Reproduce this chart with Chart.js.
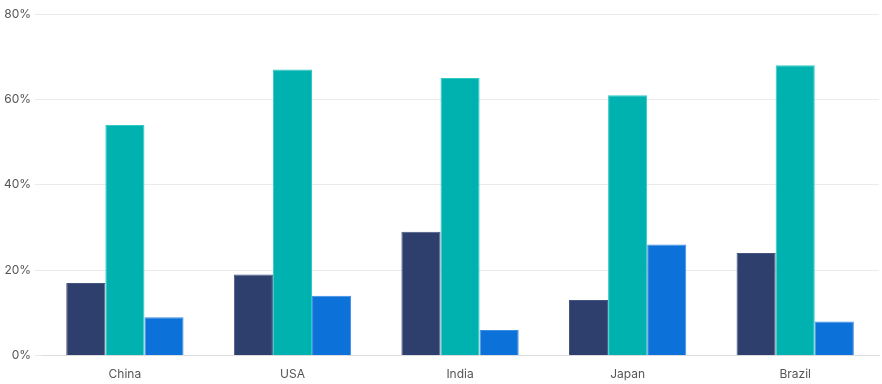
<!DOCTYPE html>
<html><head><meta charset="utf-8">
<script src="https://cdn.jsdelivr.net/npm/chart.js@4/dist/chart.umd.min.js"></script>
<style>html,body{margin:0;padding:0;background:#fff;overflow:hidden}#wrap{width:882px;height:384px;position:relative}</style>
</head><body><div id="wrap"><canvas id="c"></canvas></div>
<script>
const categories = ["China", "USA", "India", "Japan", "Brazil"];
const seriesA = [17, 19, 29, 13, 24];
const seriesB = [54, 67, 65, 61, 68];
const seriesC = [9, 14, 6, 26, 8];
const yTicks = [0, 20, 40, 60, 80];

new Chart(document.getElementById('c'), {
  type: 'bar',
  data: {
    labels: categories,
    datasets: [
      {label: 'A', data: seriesA, backgroundColor: '#2E3F6E', borderColor: '#45557F', borderWidth: 1},
      {label: 'B', data: seriesB, backgroundColor: '#00B2AF', borderColor: '#30CAC6', borderWidth: 1},
      {label: 'C', data: seriesC, backgroundColor: '#0C72DA', borderColor: '#3F8DE2', borderWidth: 1}
    ]
  },
  options: {
    responsive: true, maintainAspectRatio: false, animation: false,
    layout: {padding: {top: 14, right: 3, left: 0, bottom: -10}},
    plugins: {legend: {display: false}, tooltip: {enabled: false}},
    datasets: {bar: {categoryPercentage: 0.7, barPercentage: 1}},
    scales: {
      x: {
        grid: {display: false, drawTicks: false},
        border: {display: true, color: '#dddddd'},
        ticks: {color: '#555', font: {family: 'Inter', size: 12}, padding: 12}
      },
      y: {
        min: 0, max: 80,
        afterBuildTicks: (axis) => { axis.ticks = yTicks.map(v => ({value: v})); },
        grid: {color: '#ebebeb', tickLength: 6},
        border: {display: false},
        ticks: {color: '#555', font: {family: 'Inter', size: 12}, padding: 4, callback: v => v + '%'}
      }
    }
  }
});
</script></body></html>
